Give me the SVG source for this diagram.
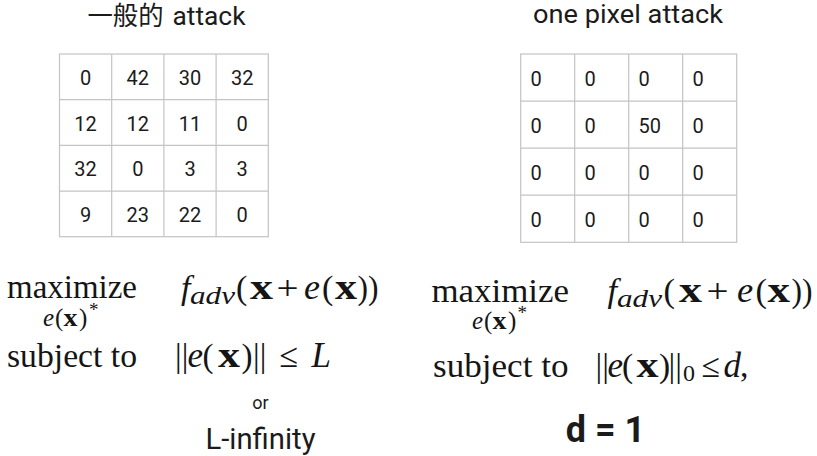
<svg xmlns="http://www.w3.org/2000/svg" width="817" height="456" viewBox="0 0 817 456">
<style>
.bg{fill:#ffffff}
.grid{fill:none;stroke:#c4c4c4;stroke-width:1.2}
.sans{font-family:Roboto,"Liberation Sans","Noto Sans CJK SC",sans-serif;fill:#1b1b1b}
.cjk{font-family:"Noto Sans CJK SC","Noto Sans CJK JP",sans-serif}
.num{font-family:Roboto,"Liberation Sans",sans-serif;font-size:20px;fill:#1b1b1b}
.c{text-anchor:middle}
.m{font-family:"Liberation Serif","Times New Roman",serif;fill:#151515}
.it{font-style:italic}
.bf{font-weight:bold}
</style>
<rect class="bg" x="0" y="0" width="817" height="456"/>

<g id="title-left">
  <text class="sans" y="24.5" font-size="26"><tspan class="cjk" x="87.5" textLength="76" lengthAdjust="spacingAndGlyphs">一般的</tspan><tspan x="172.5" textLength="73" lengthAdjust="spacingAndGlyphs">attack</tspan></text>
</g>
<g id="title-right">
  <text class="sans" x="533" y="22.7" font-size="25.5" textLength="190" lengthAdjust="spacingAndGlyphs">one pixel attack</text>
</g>

<g id="table-left">
  <rect class="grid" x="59.5" y="54" width="208.8" height="182.7"/>
  <path class="grid" d="M111.7 54V236.7M163.9 54V236.7M216.1 54V236.7M59.5 99.7H268.3M59.5 145.4H268.3M59.5 191.1H268.3"/>
  <g class="num c">
    <text x="85.6" y="85">0</text><text x="137.8" y="85">42</text><text x="190" y="85">30</text><text x="242.2" y="85">32</text>
    <text x="85.6" y="130.7">12</text><text x="137.8" y="130.7">12</text><text x="190" y="130.7">11</text><text x="242.2" y="130.7">0</text>
    <text x="85.6" y="176.4">32</text><text x="137.8" y="176.4">0</text><text x="190" y="176.4">3</text><text x="242.2" y="176.4">3</text>
    <text x="85.6" y="222">9</text><text x="137.8" y="222">23</text><text x="190" y="222">22</text><text x="242.2" y="222">0</text>
  </g>
</g>

<g id="table-right">
  <rect class="grid" x="520.7" y="54" width="216" height="188.3"/>
  <path class="grid" d="M574.7 54V242.3M628.7 54V242.3M682.7 54V242.3M520.7 101.1H736.7M520.7 148.2H736.7M520.7 195.2H736.7"/>
  <g class="num">
    <text x="530.5" y="85.5">0</text><text x="584.5" y="85.5">0</text><text x="638.5" y="85.5">0</text><text x="692.5" y="85.5">0</text>
    <text x="530.5" y="132.6">0</text><text x="584.5" y="132.6">0</text><text x="638.5" y="132.6">50</text><text x="692.5" y="132.6">0</text>
    <text x="530.5" y="179.7">0</text><text x="584.5" y="179.7">0</text><text x="638.5" y="179.7">0</text><text x="692.5" y="179.7">0</text>
    <text x="530.5" y="226.8">0</text><text x="584.5" y="226.8">0</text><text x="638.5" y="226.8">0</text><text x="692.5" y="226.8">0</text>
  </g>
</g>

<g id="formula-left">
  <text class="m" x="7" y="298" font-size="33" textLength="130" lengthAdjust="spacingAndGlyphs">maximize</text>
  <text class="m" y="326" font-size="25"><tspan class="it" x="43">e</tspan><tspan x="55">(</tspan><tspan class="bf" x="63.5" textLength="14" lengthAdjust="spacingAndGlyphs">x</tspan><tspan x="79">)</tspan><tspan x="89" dy="-10" font-size="19">*</tspan></text>
  <text class="m" y="298.5" font-size="34"><tspan class="it" x="181">f</tspan><tspan class="it" x="190" dy="5" font-size="25" textLength="45" lengthAdjust="spacingAndGlyphs">adv</tspan><tspan x="236" dy="-5">(</tspan><tspan class="bf" x="250" font-size="36" textLength="23" lengthAdjust="spacingAndGlyphs">x</tspan><tspan x="276.5" textLength="22" lengthAdjust="spacingAndGlyphs">+</tspan><tspan class="it" x="304" font-size="36">e</tspan><tspan x="322">(</tspan><tspan class="bf" x="335" font-size="36" textLength="22" lengthAdjust="spacingAndGlyphs">x</tspan><tspan x="357.5" textLength="21" lengthAdjust="spacingAndGlyphs">))</tspan></text>
  <text class="m" x="7" y="367" font-size="33" textLength="130" lengthAdjust="spacingAndGlyphs">subject to</text>
  <text class="m" y="367" font-size="33"><tspan x="175">|</tspan><tspan x="181.8">|</tspan><tspan class="it" x="187.5" font-size="35">e</tspan><tspan x="202.5">(</tspan><tspan class="bf" x="218" font-size="36" textLength="22" lengthAdjust="spacingAndGlyphs">x</tspan><tspan x="241.5">)</tspan><tspan x="253">|</tspan><tspan x="259.8">|</tspan><tspan x="279.5" font-size="34">≤</tspan><tspan class="it" x="311.5" font-size="35">L</tspan></text>
  <text class="sans c" x="260.5" y="408.5" font-size="18">or</text>
  <text class="sans" x="205.5" y="448.5" font-size="29" textLength="110" lengthAdjust="spacingAndGlyphs">L-infinity</text>
</g>

<g id="formula-right">
  <text class="m" x="431.5" y="302" font-size="34.5" textLength="137.5" lengthAdjust="spacingAndGlyphs">maximize</text>
  <text class="m" y="329" font-size="25"><tspan class="it" x="472">e</tspan><tspan x="484">(</tspan><tspan class="bf" x="492.5" textLength="14" lengthAdjust="spacingAndGlyphs">x</tspan><tspan x="508">)</tspan><tspan x="517.5" dy="-10" font-size="19">*</tspan></text>
  <text class="m" y="302" font-size="34.5"><tspan class="it" x="607.5">f</tspan><tspan class="it" x="617" dy="5" font-size="25.5" textLength="45" lengthAdjust="spacingAndGlyphs">adv</tspan><tspan x="663.5" dy="-5">(</tspan><tspan class="bf" x="679" font-size="36.5" textLength="23" lengthAdjust="spacingAndGlyphs">x</tspan><tspan x="706.5" textLength="22" lengthAdjust="spacingAndGlyphs">+</tspan><tspan class="it" x="737" font-size="36.5">e</tspan><tspan x="755.5">(</tspan><tspan class="bf" x="767.5" font-size="36.5" textLength="22.5" lengthAdjust="spacingAndGlyphs">x</tspan><tspan x="791.5" textLength="21" lengthAdjust="spacingAndGlyphs">))</tspan></text>
  <text class="m" x="433" y="377" font-size="34" textLength="135.5" lengthAdjust="spacingAndGlyphs">subject to</text>
  <text class="m" y="377" font-size="33.5"><tspan x="595.5">|</tspan><tspan x="602.3">|</tspan><tspan class="it" x="607.5" font-size="35">e</tspan><tspan x="622">(</tspan><tspan class="bf" x="636.5" font-size="36.5" textLength="22" lengthAdjust="spacingAndGlyphs">x</tspan><tspan x="659">)</tspan><tspan x="668.5">|</tspan><tspan x="675.3">|</tspan><tspan x="683" dy="4" font-size="24">0</tspan><tspan x="701.5" dy="-4">≤</tspan><tspan class="it" x="723.5" font-size="35">d</tspan><tspan x="740">,</tspan></text>
  <text class="sans c bf" x="605.5" y="442" font-size="36">d = 1</text>
</g>
</svg>
